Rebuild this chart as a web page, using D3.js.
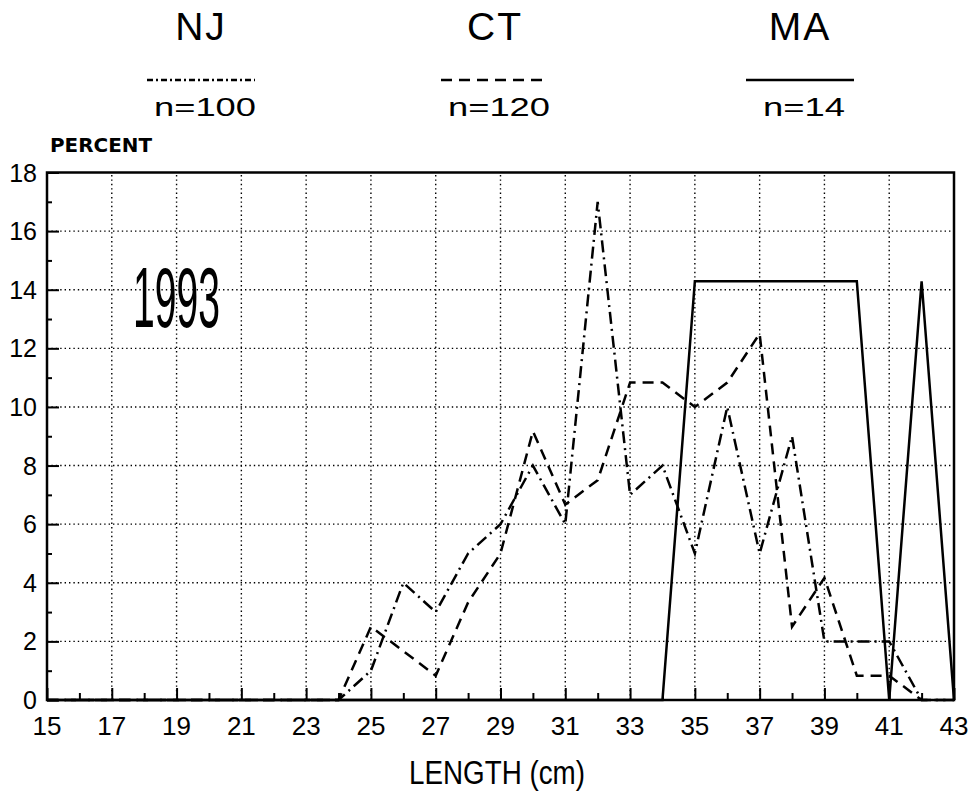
<!DOCTYPE html>
<html lang="en">
  <head>
    <meta charset="utf-8">
    <title>1993 length frequency</title>
    <script src="https://d3js.org/d3.v7.min.js"></script>
    <style>
      body { margin: 0; background: #fff; }
      svg text { fill: #000; }
    </style>
  </head>
  <body>
    <script>
      // length classes (cm) and percent per state
      var lengths = [15,16,17,18,19,20,21,22,23,24,25,26,27,28,29,30,31,32,33,34,35,36,37,38,39,40,41,42,43];
      var nj = [0,0,0,0,0,0,0,0,0,0,1,4,3,5,6,8,6,17,7,8,5,10,5,9,2,2,2,0,0];
      var ct = [0,0,0,0,0,0,0,0,0,0,2.5,1.67,0.83,3.33,5,9.17,6.67,7.5,10.83,10.83,10,10.83,12.5,2.5,4.17,0.83,0.83,0,0];
      var ma = [0,0,0,0,0,0,0,0,0,0,0,0,0,0,0,0,0,0,0,0,14.29,14.29,14.29,14.29,14.29,14.29,0,14.29,0];

      var states = ["NJ", "CT", "MA"];
      var counts = ["n=100", "n=120", "n=14"];
      var xTicks = [15,17,19,21,23,25,27,29,31,33,35,37,39,41,43];
      var yTicks = [0,2,4,6,8,10,12,14,16,18];

      var w = 974, h = 799;
      var svg = d3.select("body").append("svg")
                  .attr("width", w)
                  .attr("height", h);

      var x = d3.scaleLinear().domain([15, 43]).range([47, 954]);
      var y = d3.scaleLinear().domain([0, 18]).range([700, 172.5]);

      var dashes = {
        NJ: "12,5,2,5",
        CT: "11,7",
        MA: null
      };

      // dotted grid
      svg.selectAll(".vgrid")
         .data(xTicks.slice(1, -1))
         .enter().append("line")
         .attr("x1", function(d){ return x(d); })
         .attr("x2", function(d){ return x(d); })
         .attr("y1", y(0)).attr("y2", y(18))
         .attr("stroke", "#000").attr("stroke-width", 1.4)
         .attr("stroke-dasharray", "1.4,3");
      svg.selectAll(".hgrid")
         .data(yTicks.slice(1, -1))
         .enter().append("line")
         .attr("y1", function(d){ return y(d); })
         .attr("y2", function(d){ return y(d); })
         .attr("x1", x(15)).attr("x2", x(43))
         .attr("stroke", "#000").attr("stroke-width", 1.4)
         .attr("stroke-dasharray", "1.4,3");

      // axes with inward ticks
      var xAxis = d3.axisBottom(x).tickValues(lengths).tickSize(0).tickFormat("");
      var gx = svg.append("g").attr("transform", "translate(0," + y(0) + ")").call(xAxis);
      gx.select(".domain").remove();
      gx.selectAll(".tick line")
        .attr("y2", function(d){ return d % 2 ? -12 : -7; })
        .attr("stroke-width", 2);

      var yAxis = d3.axisLeft(y).tickValues(d3.range(0, 19, 1)).tickSize(0).tickFormat("");
      var gy = svg.append("g").attr("transform", "translate(" + x(15) + ",0)").call(yAxis);
      gy.select(".domain").remove();
      gy.selectAll(".tick line")
        .attr("x2", function(d){ return d % 2 ? 5 : 12; })
        .attr("stroke-width", 2);

      svg.append("rect")
         .attr("x", x(15)).attr("y", y(18))
         .attr("width", x(43) - x(15)).attr("height", y(0) - y(18))
         .attr("fill", "none").attr("stroke", "#000").attr("stroke-width", 2.5);

      // tick labels
      svg.selectAll(".xlab")
         .data(xTicks)
         .enter().append("text")
         .attr("x", function(d){ return x(d); })
         .attr("y", 735)
         .attr("text-anchor", "middle")
         .attr("font-family", "Liberation Sans, sans-serif")
         .attr("font-size", 26)
         .text(function(d){ return d; });
      svg.selectAll(".ylab")
         .data(yTicks)
         .enter().append("text")
         .attr("x", 37)
         .attr("y", function(d){ return y(d) + 9; })
         .attr("text-anchor", "end")
         .attr("font-family", "Liberation Sans, sans-serif")
         .attr("font-size", 25)
         .text(function(d){ return d; });

      svg.append("text")
         .attr("x", 50).attr("y", 152)
         .attr("font-family", "DejaVu Sans, sans-serif")
         .attr("font-weight", "bold")
         .attr("font-size", 19)
         .attr("textLength", 102).attr("lengthAdjust", "spacingAndGlyphs")
         .text("PERCENT");

      svg.append("text")
         .attr("x", 497).attr("y", 784)
         .attr("text-anchor", "middle")
         .attr("font-family", "Liberation Sans Narrow, sans-serif")
         .attr("font-size", 34)
         .attr("textLength", 176).attr("lengthAdjust", "spacingAndGlyphs")
         .text("LENGTH (cm)");

      svg.append("text")
         .attr("x", 133).attr("y", 327)
         .attr("font-family", "Liberation Sans Narrow, sans-serif")
         .attr("font-size", 86)
         .attr("textLength", 87).attr("lengthAdjust", "spacingAndGlyphs")
         .text("1993");

      // series lines
      var series = [
        { name: "NJ", values: nj },
        { name: "CT", values: ct },
        { name: "MA", values: ma }
      ];
      var line = d3.line()
                   .x(function(d, i){ return x(lengths[i]); })
                   .y(function(d){ return y(d); });
      svg.selectAll(".series")
         .data(series)
         .enter().append("path")
         .attr("d", function(d){ return line(d.values); })
         .attr("fill", "none")
         .attr("stroke", "#000")
         .attr("stroke-width", 2.5)
         .attr("stroke-dasharray", function(d){ return dashes[d.name]; });

      // legend across the top
      var legX = [201, 495, 800];
      var nWidth = [102, 102, 82];
      var leg = svg.selectAll(".leg")
                   .data(states)
                   .enter().append("g")
                   .attr("transform", function(d, i){ return "translate(" + legX[i] + ",0)"; });
      leg.append("text")
         .attr("y", 40)
         .attr("text-anchor", "middle")
         .attr("font-family", "Liberation Sans Narrow, sans-serif")
         .attr("font-size", 39)
         .attr("letter-spacing", 2)
         .text(function(d){ return d; });
      leg.append("line")
         .attr("x1", -54).attr("x2", 54)
         .attr("y1", 80).attr("y2", 80)
         .attr("stroke", "#000").attr("stroke-width", 2.5)
         .attr("stroke-dasharray", function(d){ return d == "NJ" ? "6,3,2,3" : dashes[d]; });
      leg.append("text")
         .attr("x", function(d, i){ return 4 - nWidth[i] / 2; })
         .attr("y", 116)
         .attr("font-family", "Liberation Sans, sans-serif")
         .attr("font-size", 25)
         .attr("textLength", function(d, i){ return nWidth[i]; })
         .attr("lengthAdjust", "spacingAndGlyphs")
         .text(function(d, i){ return counts[i]; });
    </script>
  </body>
</html>
